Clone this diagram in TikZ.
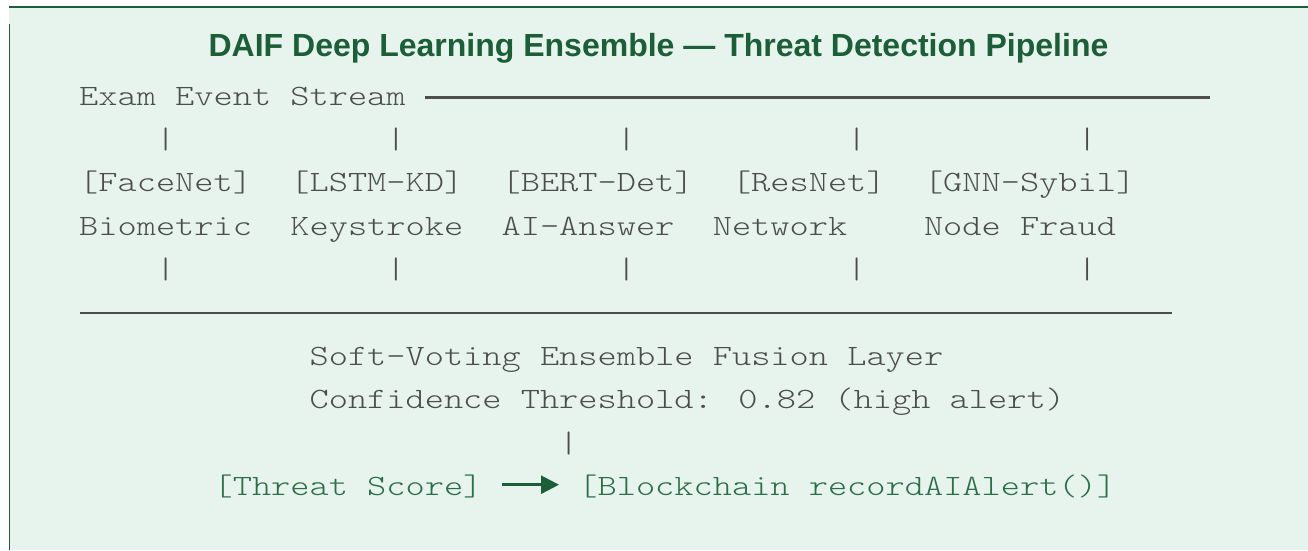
\documentclass[tikz,border=0pt]{standalone}
\usepackage{fontspec}
\usetikzlibrary{arrows.meta}
\newfontfamily\codefont{lmmonolt10-regular.otf}[FakeStretch=1.24]
\newfontfamily\titlefont{Liberation Sans}
\definecolor{dgreen}{HTML}{1B5E38}
\definecolor{tgreen}{HTML}{2B6E47}
\definecolor{codegray}{HTML}{4D4D4D}
\definecolor{bgfill}{HTML}{E7F4ED}
\begin{document}
\begin{tikzpicture}[x=1pt,y=-1pt,
  code/.style={font={\codefont\fontsize{29.5}{35}\selectfont}, text=codegray, inner sep=0pt, anchor=base west},
  gcode/.style={code, text=tgreen},
  titlestyle/.style={font={\titlefont\bfseries\fontsize{32}{38}\selectfont}, text=dgreen, inner sep=0pt, anchor=base},
  bus/.style={draw=codegray, line width=2.6pt},
  flow/.style={draw=dgreen, line width=2.7pt, -{Triangle[length=18pt,width=18pt]}},
]
\useasboundingbox (0,0) rectangle (1308,550);
% panel
\fill[bgfill] (9,7) rectangle (1308,550);
\draw[dgreen, line width=2.5pt] (9,6.8) -- (1308,6.8);
\draw[dgreen, line width=1.3pt] (9.6,24) -- (9.6,550);
% title
\node[titlestyle] (title) at (658.5,56) {DAIF Deep Learning Ensemble — Threat Detection Pipeline};
% row 0
\node[code] (stream) at (79,105) {Exam Event Stream};
\coordinate (busTL) at (424.6,97.5);
\coordinate (busTR) at (1210,97.5);
\draw[bus] (busTL) -- (busTR);
% row 1 pipes
\node[code] (p1a) at (155.8,148.4) {|};
\node[code] (p1b) at (386.2,148.4) {|};
\node[code] (p1c) at (616.6,148.4) {|};
\node[code] (p1d) at (847,148.4) {|};
\node[code] (p1e) at (1077.4,148.4) {|};
% row 2 models
\node[code] (facenet) at (79,191.8) {[FaceNet]};
\node[code] (lstm) at (290.2,191.8) {[LSTM-KD]};
\node[code] (bert) at (501.4,191.8) {[BERT-Det]};
\node[code] (resnet) at (731.8,191.8) {[ResNet]};
\node[code] (gnn) at (923.8,191.8) {[GNN-Sybil]};
% row 3 descriptions
\node[code] (bio) at (79,235.2) {Biometric};
\node[code] (key) at (290.2,235.2) {Keystroke};
\node[code] (aians) at (501.4,235.2) {AI-Answer};
\node[code] (net) at (712.6,235.2) {Network};
\node[code] (fraud) at (923.8,235.2) {Node Fraud};
% row 4 pipes
\node[code] (p2a) at (155.8,278.6) {|};
\node[code] (p2b) at (386.2,278.6) {|};
\node[code] (p2c) at (616.6,278.6) {|};
\node[code] (p2d) at (847,278.6) {|};
\node[code] (p2e) at (1077.4,278.6) {|};
% row 5 bus
\coordinate (busBL) at (80,313);
\coordinate (busBR) at (1172,313);
\draw[bus] (busBL) -- (busBR);
% fusion
\node[code] (fusion) at (309.4,365.4) {Soft-Voting Ensemble Fusion Layer};
\node[code] (thresh) at (309.4,408.8) {Confidence Threshold: 0.82 (high alert)};
\node[code] (p3) at (559,452.2) {|};
% output
\node[gcode] (score) at (213.4,495.6) {[Threat Score]};
\node[gcode] (chain) at (578.2,495.6) {[Blockchain recordAIAlert()]};
\draw[flow] ([xshift=19.2pt]score.east |- 0,484.7) -- ([xshift=-19.2pt]chain.west |- 0,484.7);
\end{tikzpicture}
\end{document}
